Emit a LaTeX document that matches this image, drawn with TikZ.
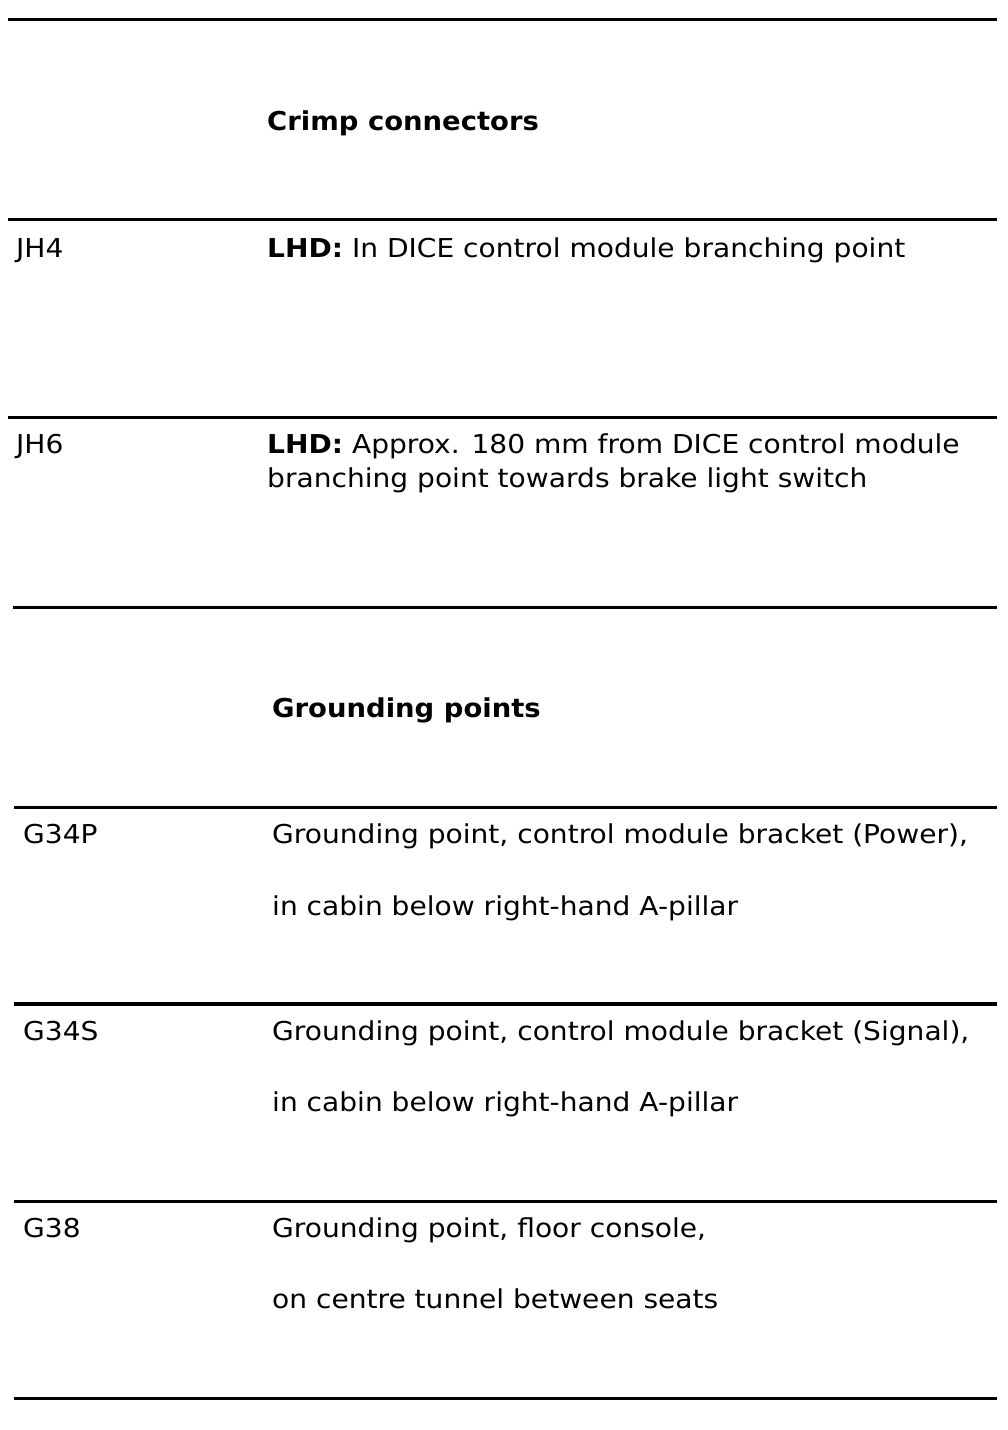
\documentclass[tikz,border=0pt]{standalone}
\usepackage{fontspec}
\setmainfont[FakeStretch=1.08]{DejaVu Sans}
\newfontfamily\headfont[FakeStretch=1.055]{DejaVu Sans}
\begin{document}
\begin{tikzpicture}[x=1pt,y=-1pt,
  rule/.style={line width=3pt},
  thickrule/.style={line width=3.8pt},
  txt/.style={anchor=base west,inner sep=0pt,font=\fontsize{26}{31}\selectfont},
  head/.style={txt,font=\fontsize{26}{31}\headfont\bfseries}]
\useasboundingbox (0,0) rectangle (1008,1430);
% rules
\coordinate (l1a) at (8,19);   \coordinate (l1b) at (997,19);
\coordinate (l2a) at (8,219);  \coordinate (l2b) at (997,219);
\coordinate (l3a) at (8,417);  \coordinate (l3b) at (997,417);
\coordinate (l4a) at (13,607); \coordinate (l4b) at (997,607);
\coordinate (l5a) at (14,807); \coordinate (l5b) at (997,807);
\coordinate (l6a) at (14,1004);\coordinate (l6b) at (997,1004);
\coordinate (l7a) at (14,1201);\coordinate (l7b) at (997,1201);
\coordinate (l8a) at (14,1398);\coordinate (l8b) at (997,1398);
\draw[rule] (l1a) -- (l1b);
\draw[rule] (l2a) -- (l2b);
\draw[rule] (l3a) -- (l3b);
\draw[rule] (l4a) -- (l4b);
\draw[rule] (l5a) -- (l5b);
\draw[thickrule] (l6a) -- (l6b);
\draw[rule] (l7a) -- (l7b);
\draw[rule] (l8a) -- (l8b);
% texts
\node[head] (h1) at (267,130) {Crimp connectors};
\node[txt] (jh4) at (16,257) {JH4};
\node[txt] (jh4d) at (267,257) {\textbf{LHD:} In DICE control module branching point};
\node[txt] (jh6) at (16,453) {JH6};
\node[txt] (jh6d) at (267,453) {\textbf{LHD:} Approx. 180 mm from DICE control module};
\node[txt] (jh6e) at (267,487) {branching point towards brake light switch};
\node[head] (h2) at (272,717) {Grounding points};
\node[txt] (g1) at (23,843) {G34P};
\node[txt] (g1d) at (272,843) {Grounding point, control module bracket (Power),};
\node[txt] (g1e) at (272,915) {in cabin below right-hand A-pillar};
\node[txt] (g2) at (23,1040) {G34S};
\node[txt] (g2d) at (272,1040) {Grounding point, control module bracket (Signal),};
\node[txt] (g2e) at (272,1111) {in cabin below right-hand A-pillar};
\node[txt] (g3) at (23,1237) {G38};
\node[txt] (g3d) at (272,1237) {Grounding point, floor console,};
\node[txt] (g3e) at (272,1308) {on centre tunnel between seats};
\end{tikzpicture}
\end{document}
